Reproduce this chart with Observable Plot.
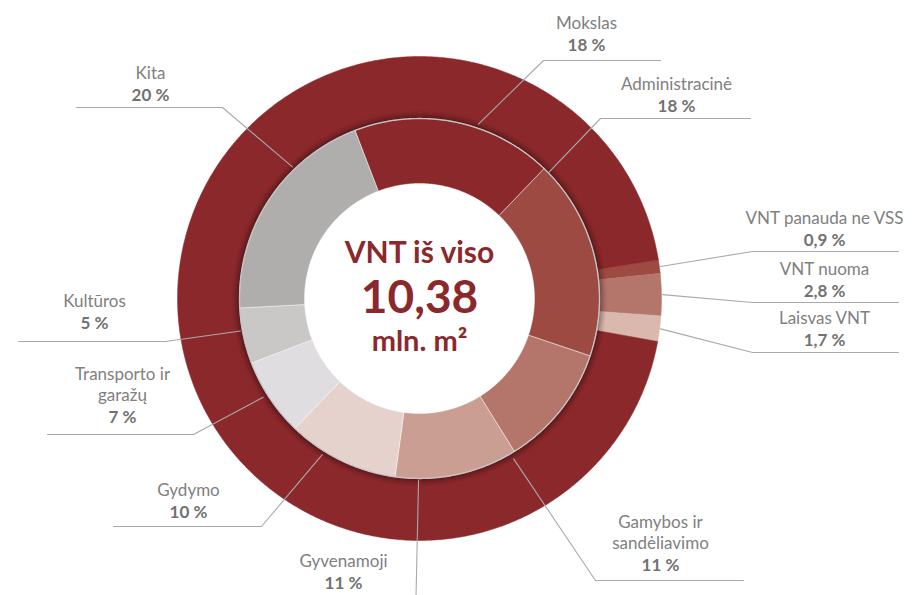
<!DOCTYPE html>
<html><head><meta charset="utf-8">
<script src="https://cdn.jsdelivr.net/npm/d3@7"></script>
<script src="https://cdn.jsdelivr.net/npm/@observablehq/plot@0.6"></script>
<style>body{margin:0;background:#fff}#chart svg{display:block}</style>
</head><body><div id="chart"></div>
<script>
// ---------- data ----------
const innerCategories = ["Mokslas", "Administracinė", "Gamybos ir\nsandėliavimo", "Gyvenamoji", "Gydymo", "Transporto ir\ngaražų", "Kultūros", "Kita"];
const innerValues = [18, 18, 11, 11, 10, 7, 5, 20];
const innerLabels = ["18 %", "18 %", "11 %", "11 %", "10 %", "7 %", "5 %", "20 %"];
const innerColors = ["#8b282c", "#9d4a42", "#b4766b", "#cb9e93", "#e5d2cc", "#dfdddf", "#c9c8c7", "#afaead"];

const outerCategories = ["VNT panauda ne VSS", "VNT nuoma", "Laisvas VNT", "VNT naudojamas"];
const outerValues = [0.9, 2.8, 1.7, 94.6];
const outerLabels = ["0,9 %", "2,8 %", "1,7 %", ""];
const outerColors = ["#9d4a42", "#b4766b", "#dbb8ae", "#8b282c"];

const centerLines = ["VNT iš viso", "10,38", "mln. m²"];

// ---------- layout (px offsets from donut centre, y up) ----------
const R_HOLE = 115, R_MID = 180, R_OUT = 242;
const innerStartDeg = -21, outerStartDeg = 80.8;
const labelLayout = {
  "Mokslas":                  {tx: 167,  py: 253,  ly: 238,  elbow: 124,  far: 241,  a: 18.7,   r: 184},
  "Administracinė":           {tx: 257,  py: 192,  ly: 180,  elbow: 181,  far: 331,  a: 45.7,   r: 180},
  "Gamybos ir\nsandėliavimo": {tx: 241,  py: -267, ly: -282, elbow: 176,  far: 324,  a: 149.6,  r: 186},
  "Gyvenamoji":               {tx: -76,  py: -285, ly: -322, elbow: -4,   far: -150, a: 180.3,  r: 182},
  "Gydymo":                   {tx: -231, py: -214, ly: -228, elbow: -158, far: -306, a: -148.1, r: 184},
  "Transporto ir\ngaražų":    {tx: -297, py: -119, ly: -136, elbow: -226, far: -372, a: -122.3, r: 185},
  "Kultūros":                 {tx: -325, py: -25,  ly: -43,  elbow: -254, far: -401, a: -100.3, r: 182},
  "Kita":                     {tx: -269, py: 203,  ly: 191,  elbow: -197, far: -343, a: -44,    r: 183},
  "VNT panauda ne VSS":       {tx: 405,  py: 58,   ly: 47,   elbow: 333,  far: 479,  r: 243},
  "VNT nuoma":                {tx: 405,  py: 7,    ly: -4,   elbow: 333,  far: 479,  r: 243},
  "Laisvas VNT":              {tx: 405,  py: -42,  ly: -54,  elbow: 333,  far: 479,  r: 243}
};
const LINE_GAP = 21.5;
const rad = d => d * Math.PI / 180;

// ---------- geometry from data ----------
function arcPolygon(key, name, a0, a1, r0, r1) {
  const n = Math.max(2, Math.ceil((a1 - a0) / (Math.PI / 360)));
  const pts = [];
  for (let i = 0; i <= n; i++) { const a = a0 + (a1 - a0) * i / n; pts.push({key, name, x: r1 * Math.sin(a), y: r1 * Math.cos(a)}); }
  for (let i = n; i >= 0; i--) { const a = a0 + (a1 - a0) * i / n; pts.push({key, name, x: r0 * Math.sin(a), y: r0 * Math.cos(a)}); }
  pts.push({...pts[0]});
  return pts;
}
const pieInner = d3.pie().sort(null).value(d => d.value)
  .startAngle(rad(innerStartDeg)).endAngle(rad(innerStartDeg) + 2 * Math.PI);
const pieOuter = d3.pie().sort(null).value(d => d.value)
  .startAngle(rad(outerStartDeg)).endAngle(rad(outerStartDeg) + 2 * Math.PI);

const innerData = innerCategories.map((name, i) => ({name, value: innerValues[i], label: innerLabels[i]}));
const outerData = outerCategories.map((name, i) => ({name, value: outerValues[i], label: outerLabels[i]}));
const innerArcs = pieInner(innerData);
const outerArcs = pieOuter(outerData);

const innerPolys = innerArcs.flatMap(a => arcPolygon("in:" + a.data.name, a.data.name, a.startAngle, a.endAngle, R_HOLE, R_MID));
const outerPolys = outerArcs.flatMap(a => arcPolygon("out:" + a.data.name, a.data.name, a.startAngle, a.endAngle, R_MID, R_OUT));

function circle(r, extra = {}) {
  const pts = [];
  for (let i = 0; i <= 720; i++) { const a = 2 * Math.PI * i / 720; pts.push({x: r * Math.sin(a), y: r * Math.cos(a), r, ...extra}); }
  return pts;
}
// soft shadow of the inner ring cast onto the outer ring
const shadowSteps = d3.range(0, 8);
const shadowPts = shadowSteps.flatMap(s => circle(R_MID + 0.5 + s, {o: 0.32 * Math.pow(1 - s / 8, 1.6)}));

// labels & leader lines
const labelled = [
  ...innerArcs.map(a => ({arc: a})),
  ...outerArcs.filter(a => a.data.label).map(a => ({arc: a}))
];
const leaders = [], nameRows = [], pctRows = [];
for (const {arc} of labelled) {
  const d = arc.data, L = labelLayout[d.name];
  const ang = L.a !== undefined ? rad(L.a) : (arc.startAngle + arc.endAngle) / 2;
  leaders.push({k: d.name, x: L.r * Math.sin(ang), y: L.r * Math.cos(ang)});
  leaders.push({k: d.name, x: L.elbow, y: L.ly});
  leaders.push({k: d.name, x: L.far, y: L.ly});
  pctRows.push({text: d.label, x: L.tx, y: L.py});
  const lines = d.name.split("\n");
  lines.forEach((t, i) => nameRows.push({text: t, x: L.tx, y: L.py + LINE_GAP * (lines.length - i)}));
}

const centerRows = centerLines.map((t, i) => ({text: t, i}));
const centerDy = [-45, 0, 43];
const centerSize = [30, 46, 29];

const svg = Plot.plot({
  width: 916, height: 595, margin: 0,
  x: {domain: [-419, 497], range: [0, 916], axis: null},
  y: {domain: [298, -297], range: [0, 595], axis: null},
  color: {domain: [...innerCategories, ...outerCategories], range: [...innerColors, ...outerColors]},
  style: {background: "#fff", fontFamily: "Lato, 'Open Sans', sans-serif", overflow: "hidden"},
  marks: [
    Plot.line(outerPolys, {x: "x", y: "y", z: "key", fill: "name", stroke: "name", strokeWidth: 0.5}),
    Plot.line(shadowPts, {x: "x", y: "y", z: "r", stroke: "#000", strokeWidth: 1.2, strokeOpacity: "o"}),
    Plot.line(innerPolys, {x: "x", y: "y", z: "key", fill: "name", stroke: "#fff", strokeWidth: 0.7, strokeOpacity: 0.6}),
    Plot.line(circle(R_MID), {x: "x", y: "y", stroke: "#c4c4c4", strokeWidth: 1.3}),
    Plot.line(leaders, {x: "x", y: "y", z: "k", stroke: "#a9a9a9", strokeWidth: 1.1}),
    Plot.text(nameRows, {x: "x", y: "y", text: "text", fontSize: 17, fill: "#808080"}),
    Plot.text(pctRows, {x: "x", y: "y", text: "text", fontSize: 17, fontWeight: "bold", fill: "#727272"}),
    ...centerRows.map(r => Plot.text([r], {x: () => 0, y: () => 0, dy: centerDy[r.i], text: "text", fontSize: centerSize[r.i], fontWeight: "bold", fill: "#8b282c"}))
  ]
});
document.getElementById("chart").appendChild(svg);
</script>
</body></html>
